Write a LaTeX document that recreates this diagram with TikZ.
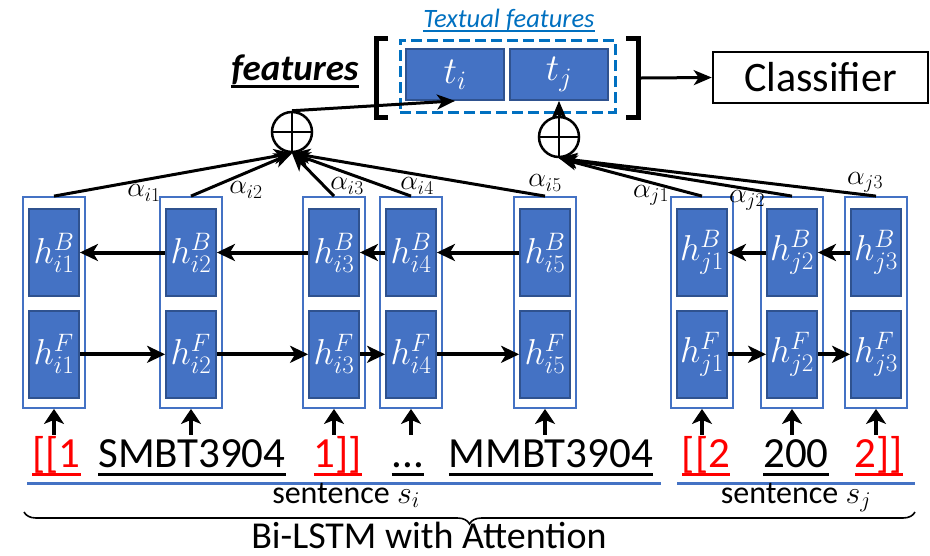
\RequirePackage{fix-cm}
\documentclass[tikz,border=0pt]{standalone}
\usepackage{fontspec}
\setmainfont{Carlito}
\usetikzlibrary{arrows.meta, positioning, decorations.pathreplacing}

\definecolor{cellblue}{HTML}{4472C4}
\definecolor{celledge}{HTML}{2F528F}
\definecolor{featblue}{HTML}{0070C0}
\definecolor{tokred}{HTML}{FF0000}

% underline: depth of the rule's bottom, thickness, text
\newcommand{\ultext}[3]{{\setbox0=\hbox{#3}\rlap{\copy0}\rule[-#1]{\wd0}{#2}}}

\begin{document}
\begin{tikzpicture}[x=1pt, y=-1pt,
        outer/.style={draw=cellblue, line width=1.8pt, fill=white, minimum width=62pt, minimum height=211pt, inner sep=0pt},
        cell/.style={draw=celledge, line width=1.8pt, fill=cellblue, text=white, minimum width=50pt, minimum height=87pt, inner sep=0pt, font=\fontsize{36}{38}\selectfont},
        featcell/.style={draw=celledge, line width=1.8pt, fill=cellblue, text=white, minimum width=98pt, minimum height=51pt, inner sep=0pt, font=\fontsize{38}{40}\selectfont},
        tok/.style={font=\fontsize{43}{46}\selectfont, inner sep=0pt, anchor=base, text height=32pt, text depth=8pt},
        alpha_label/.style={font=\fontsize{28}{30}\selectfont, inner sep=0pt},
        oplus/.style={circle, draw, line width=2.5pt, minimum size=40pt, inner sep=0pt,
            path picture={\draw[line width=2.5pt] (path picture bounding box.north) -- (path picture bounding box.south)
                (path picture bounding box.west) -- (path picture bounding box.east);}},
        lstm/.style={line width=4pt, -{Stealth[length=18pt, width=17pt, inset=5pt]}},
        conn/.style={line width=3pt, -{Stealth[length=18pt, width=15pt, inset=5pt]}},
        uparrow/.style={line width=4pt, -{Stealth[length=15pt, width=20pt, inset=4pt]}},
        sentline/.style={draw=cellblue, line width=3pt},
        bracket/.style={line width=5pt}]

        \useasboundingbox (0,0) rectangle (930,555);

        % Bi-LSTM columns for sentence s_i
        \node[outer] (ci1) at (54,302.5) {};
        \node[outer] (ci2) at (191,302.5) {};
        \node[outer] (ci3) at (334,302.5) {};
        \node[outer] (ci4) at (411,302.5) {};
        \node[outer] (ci5) at (545,302.5) {};
        % Bi-LSTM columns for sentence s_j
        \node[outer] (cj1) at (702,302.5) {};
        \node[outer] (cj2) at (792,302.5) {};
        \node[outer] (cj3) at (876,302.5) {};

        \node[cell, below=12pt of ci1.north] (bi1) {$h^B_{i1}$};
        \node[cell, below=13pt of bi1] (fi1) {$h^F_{i1}$};
        \node[cell, below=12pt of ci2.north] (bi2) {$h^B_{i2}$};
        \node[cell, below=13pt of bi2] (fi2) {$h^F_{i2}$};
        \node[cell, below=12pt of ci3.north] (bi3) {$h^B_{i3}$};
        \node[cell, below=13pt of bi3] (fi3) {$h^F_{i3}$};
        \node[cell, below=12pt of ci4.north] (bi4) {$h^B_{i4}$};
        \node[cell, below=13pt of bi4] (fi4) {$h^F_{i4}$};
        \node[cell, below=12pt of ci5.north] (bi5) {$h^B_{i5}$};
        \node[cell, below=13pt of bi5] (fi5) {$h^F_{i5}$};
        \node[cell, below=12pt of cj1.north] (bj1) {$h^B_{j1}$};
        \node[cell, below=13pt of bj1] (fj1) {$h^F_{j1}$};
        \node[cell, below=12pt of cj2.north] (bj2) {$h^B_{j2}$};
        \node[cell, below=13pt of bj2] (fj2) {$h^F_{j2}$};
        \node[cell, below=12pt of cj3.north] (bj3) {$h^B_{j3}$};
        \node[cell, below=13pt of bj3] (fj3) {$h^F_{j3}$};

        % backward and forward passes
        \draw[lstm] (bi2) -- (bi1);
        \draw[lstm] (bi3) -- (bi2);
        \draw[lstm] (bi4) -- (bi3);
        \draw[lstm] (bi5) -- (bi4);
        \draw[lstm] (bj2) -- (bj1);
        \draw[lstm] (bj3) -- (bj2);
        \draw[lstm] (fi1) -- (fi2);
        \draw[lstm] (fi2) -- (fi3);
        \draw[lstm] (fi3) -- (fi4);
        \draw[lstm] (fi4) -- (fi5);
        \draw[lstm] (fj1) -- (fj2);
        \draw[lstm] (fj2) -- (fj3);

        % input tokens
        \node[tok, text=tokred] (wi1) at (56.5,467) {\ultext{8.5pt}{2.5pt}{[[1}};
        \node[tok] (wi2) at (192,467) {\ultext{8.5pt}{2.5pt}{SMBT3904}};
        \node[tok, text=tokred] (wi3) at (338,467) {\ultext{8.5pt}{2.5pt}{1]]}};
        \node[tok] (wi4) at (408,467) {\ultext{8.5pt}{2.5pt}{...}};
        \node[tok] (wi5) at (551,467) {\ultext{8.5pt}{2.5pt}{MMBT3904}};
        \node[tok, text=tokred] (wj1) at (706,467) {\ultext{8.5pt}{2.5pt}{[[2}};
        \node[tok] (wj2) at (796,467) {\ultext{8.5pt}{2.5pt}{200}};
        \node[tok, text=tokred] (wj3) at (879,467) {\ultext{8.5pt}{2.5pt}{2]]}};

        \draw[uparrow] (ci1.south |- wi1.north) -- (ci1.south);
        \draw[uparrow] (ci2.south |- wi2.north) -- (ci2.south);
        \draw[uparrow] (ci3.south |- wi3.north) -- (ci3.south);
        \draw[uparrow] (ci4.south |- wi4.north) -- (ci4.south);
        \draw[uparrow] (ci5.south |- wi5.north) -- (ci5.south);
        \draw[uparrow] (cj1.south |- wj1.north) -- (cj1.south);
        \draw[uparrow] (cj2.south |- wj2.north) -- (cj2.south);
        \draw[uparrow] (cj3.south |- wj3.north) -- (cj3.south);

        % sentence spans
        \coordinate (si_left) at (27,483);
        \coordinate (si_right) at (661,483);
        \coordinate (sj_left) at (677,483);
        \coordinate (sj_right) at (915,483);
        \draw[sentline] (si_left) -- (si_right);
        \draw[sentline] (sj_left) -- (sj_right);
        \node[font=\fontsize{32}{34}\selectfont, anchor=base, inner sep=0pt] (sent_i) at (346,503) {sentence $s_i$};
        \node[font=\fontsize{32}{34}\selectfont, anchor=base, inner sep=0pt] (sent_j) at (796,503) {sentence $s_j$};

        % brace over the whole model
        \coordinate (brace_left) at (24,512);
        \coordinate (brace_right) at (915,512);
        \draw[line width=1.6pt, decorate, decoration={brace, mirror, amplitude=12pt}] (brace_left) -- (brace_right);
        \node[font=\fontsize{38}{40}\selectfont, anchor=base, inner sep=0pt, text depth=0pt] (bilstm) at (429,548) {Bi-LSTM with Attention};

        % attention pooling
        \node[oplus] (oi) at (292,132) {};
        \node[oplus] (oj) at (559,137) {};

        \draw[conn] (ci1.north) -- (oi.south);
        \draw[conn] (ci2.north) -- (oi.south);
        \draw[conn] (ci3.north) -- (oi.south);
        \draw[conn] (ci4.north) -- (oi.south);
        \draw[conn] (ci5.north) -- (oi.south);
        \draw[conn] (cj1.north) -- (oj.south);
        \draw[conn] (cj2.north) -- (oj.south);
        \draw[conn] (cj3.north) -- (oj.south);

        \node[alpha_label] (ai1) at (144,193) {$\alpha_{i1}$};
        \node[alpha_label] (ai2) at (246,190) {$\alpha_{i2}$};
        \node[alpha_label] (ai3) at (347,186) {$\alpha_{i3}$};
        \node[alpha_label] (ai4) at (417,186) {$\alpha_{i4}$};
        \node[alpha_label] (ai5) at (545,183) {$\alpha_{i5}$};
        \node[alpha_label] (aj1) at (651,195) {$\alpha_{j1}$};
        \node[alpha_label] (aj2) at (747,200) {$\alpha_{j2}$};
        \node[alpha_label] (aj3) at (865,182) {$\alpha_{j3}$};

        % feature vector
        \node[draw=featblue, dashed, dash pattern=on 11pt off 5pt, line width=3pt, minimum width=215pt, minimum height=72pt] (tfeat) at (507.5,76) {};
        \node[featcell] (ti) at (455,74.5) {$t_i$};
        \node[featcell] (tj) at (559,74.5) {$t_j$};
        \node[font=\fontsize{26.5}{28}\selectfont\itshape, text=featblue, anchor=base, inner sep=0pt] (tlabel) at (509,27) {\ultext{5pt}{1.8pt}{Textual features}};
        \node[font=\fontsize{37}{39}\selectfont\bfseries\itshape, anchor=base, inner sep=0pt] (flabel) at (295,80) {\ultext{7.5pt}{3pt}{features}};

        \draw[bracket] (388,38) -| (376,117) -- (388,117);
        \draw[bracket] (626,38) -| (638,117) -- (626,117);

        \draw[conn] (oi.north) -- (ti.south);
        \draw[conn] (oj.north) -- (tj.south);

        % classifier
        \node[draw, line width=2.5pt, minimum width=215pt, minimum height=51pt, font=\fontsize{42}{44}\selectfont] (clf) at (820.5,77.5) {Classifier};
        \coordinate (bracket_out) at (641,78);
        \draw[conn] (bracket_out) -- (clf.west);
    \end{tikzpicture}
\end{document}
